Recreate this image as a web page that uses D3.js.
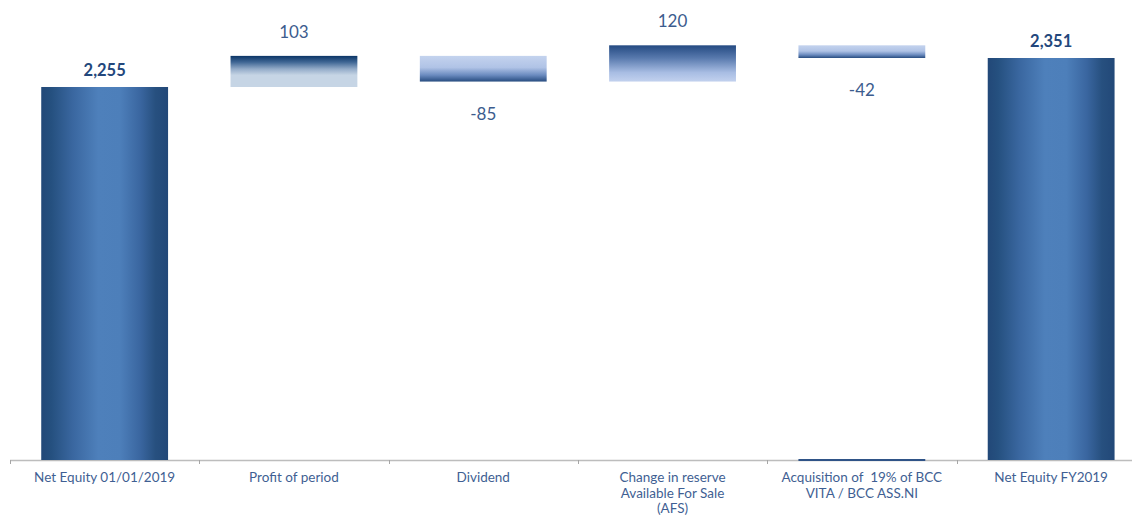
<!DOCTYPE html>
<html>
<head>
<meta charset="utf-8">
<script src="https://cdn.jsdelivr.net/npm/d3@7"></script>
<style>
  html, body { margin: 0; padding: 0; background: #ffffff; }
  svg { display: block; }
  text { font-family: "Lato", "Open Sans", sans-serif; white-space: pre; }
</style>
</head>
<body>
<svg id="chart" width="1132" height="515"></svg>
<script>
// Equity bridge: opening balance, movements, closing balance
const categories = [
  ["Net Equity 01/01/2019"],
  ["Profit of period"],
  ["Dividend"],
  ["Change in reserve", "Available For Sale", "(AFS)"],
  ["Acquisition of  19% of BCC", "VITA / BCC ASS.NI"],
  ["Net Equity FY2019"]
];
const kinds = ["total", "delta", "delta", "delta", "delta", "total"];
const values = [2255, 103, -85, 120, -42, 2351];
const valueLabels = ["2,255", "103", "-85", "120", "-42", "2,351"];

// Running start/end for each bar
const bars = [];
let running = 0;
values.forEach((v, i) => {
  if (kinds[i] === "total") {
    bars.push({ i, kind: "total", y0: null, y1: v, v });
    running = v;
  } else {
    bars.push({ i, kind: "delta", y0: running, y1: running + v, v });
    running += v;
  }
});

const svg = d3.select("#chart");
const axisY = 460;

const x = d3.scaleBand()
  .domain(d3.range(categories.length))
  .range([10, 10 + 189.3 * categories.length])
  .paddingInner(0.33)
  .paddingOuter(0.165);

const y = d3.scaleLinear()
  .domain([1020, 2351])
  .range([axisY, 58]);

const defs = svg.append("defs");

// Horizontal shading for the total columns
const gT = defs.append("linearGradient").attr("id", "gTotal")
  .attr("x1", "0%").attr("x2", "100%").attr("y1", "0%").attr("y2", "0%");
[["0%", "#224878"], ["8%", "#25507f"], ["25%", "#3a67a0"], ["45%", "#4e80bb"],
 ["62%", "#4d7fba"], ["78%", "#3a66a0"], ["90%", "#27507f"], ["100%", "#224878"]]
  .forEach(([o, c]) => gT.append("stop").attr("offset", o).attr("stop-color", c));

// Vertical shading for the movement bars
function vGrad(id, stops) {
  const g = defs.append("linearGradient").attr("id", id)
    .attr("x1", "0%").attr("x2", "0%").attr("y1", "0%").attr("y2", "100%");
  stops.forEach(([o, c]) => g.append("stop").attr("offset", o).attr("stop-color", c));
}
vGrad("gUp1", [["0%", "#0b3566"], ["20%", "#3f6694"], ["42%", "#93abc8"], ["62%", "#c6d5e5"], ["100%", "#c6d5e5"]]);
vGrad("gUp2", [["0%", "#244a82"], ["35%", "#5879ad"], ["75%", "#a8bde3"], ["100%", "#c2d1ee"]]);
vGrad("gDown", [["0%", "#c4d3ee"], ["45%", "#b0c3e6"], ["75%", "#6b8bbf"], ["100%", "#274c80"]]);

const fills = ["url(#gTotal)", "url(#gUp1)", "url(#gDown)", "url(#gUp2)", "url(#gDown)", "url(#gTotal)"];

// Axis line
svg.append("line")
  .attr("x1", 10).attr("x2", 1132)
  .attr("y1", axisY + 0.5).attr("y2", axisY + 0.5)
  .attr("stroke", "#bdbdbd").attr("stroke-width", 1.5);

// Category separators
const ticks = d3.range(categories.length + 1).map(i => 10 + 189.3 * i);
svg.selectAll("line.tick").data(ticks).join("line")
  .attr("class", "tick")
  .attr("x1", d => Math.round(d) + 0.5).attr("x2", d => Math.round(d) + 0.5)
  .attr("y1", axisY).attr("y2", axisY + 4)
  .attr("stroke", "#a6a6a6").attr("stroke-width", 1);

// Bars
svg.selectAll("rect.bar").data(bars).join("rect")
  .attr("class", "bar")
  .attr("x", d => x(d.i))
  .attr("width", x.bandwidth())
  .attr("y", d => d.kind === "total" ? y(d.y1) : y(Math.max(d.y0, d.y1)))
  .attr("height", d => d.kind === "total" ? axisY - y(d.y1) : Math.abs(y(d.y0) - y(d.y1)))
  .attr("fill", (d, i) => fills[i]);

// Thin base edge under the last movement bar
svg.append("rect")
  .attr("x", x(4)).attr("width", x.bandwidth())
  .attr("y", axisY - 1).attr("height", 2)
  .attr("fill", "#2f5387");

// Value labels
svg.selectAll("text.val").data(bars).join("text")
  .attr("class", "val")
  .attr("x", d => x(d.i) + x.bandwidth() / 2)
  .attr("y", d => {
    if (d.kind === "total") return y(d.y1) - 11;
    if (d.v >= 0) return y(d.y1) - 18;
    return y(d.y1) + 38;
  })
  .attr("text-anchor", "middle")
  .attr("font-size", d => d.kind === "total" ? 16.5 : 17)
  .attr("font-weight", d => d.kind === "total" ? "bold" : "normal")
  .attr("fill", d => d.kind === "total" ? "#23477c" : "#3c5c8e")
  .text((d, i) => valueLabels[i]);

// Category labels
const lab = svg.selectAll("text.cat").data(categories).join("text")
  .attr("class", "cat")
  .attr("text-anchor", "middle")
  .attr("font-size", 13.5)
  .attr("fill", "#3f5f93");
lab.each(function (lines, i) {
  const t = d3.select(this);
  lines.forEach((ln, k) => {
    t.append("tspan")
      .attr("x", x(i) + x.bandwidth() / 2)
      .attr("y", 482 + k * 15.5)
      .text(ln);
  });
});
</script>
</body>
</html>
